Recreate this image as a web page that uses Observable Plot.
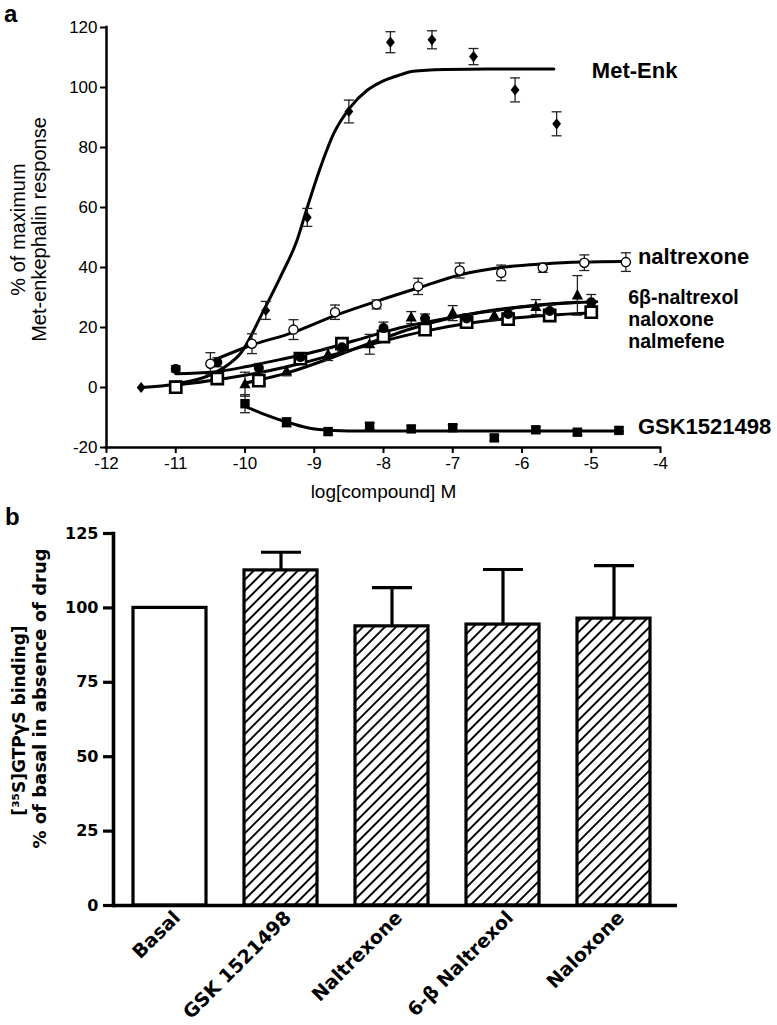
<!DOCTYPE html>
<html>
<head>
<meta charset="utf-8">
<script src="https://cdn.jsdelivr.net/npm/d3@7"></script>
<script src="https://cdn.jsdelivr.net/npm/@observablehq/plot@0.6"></script>
<style>
html,body{margin:0;padding:0;background:#fff;}
#wrap{position:relative;width:777px;height:1025px;overflow:hidden;background:#fff;}
.letter{position:absolute;font-family:'Liberation Sans',Arial,sans-serif;font-weight:bold;font-size:24px;line-height:normal;color:#000;}
#panelA{position:absolute;left:0;top:0;}
#panelB{position:absolute;left:0;top:510px;}
</style>
</head>
<body>
<svg width="0" height="0" style="position:absolute">
  <defs>
    <pattern id="hatch" patternUnits="userSpaceOnUse" width="7.8" height="7.8" patternTransform="rotate(45)">
      <rect x="0" y="0" width="7.8" height="7.8" fill="#fff"/>
      <line x1="3.9" y1="-1" x2="3.9" y2="9" stroke="#000" stroke-width="1.9"/>
    </pattern>
  </defs>
</svg>
<div id="wrap">
  <div id="panelA"></div>
  <div id="panelB"></div>
  <div class="letter" style="left:4px;top:0px;">a</div>
  <div class="letter" style="left:5px;top:503px;">b</div>
</div>
<script>
// ---------------- Panel a data ----------------
const xTicksA = [-12, -11, -10, -9, -8, -7, -6, -5, -4];
const yTicksA = [-20, 0, 20, 40, 60, 80, 100, 120];

// measured points (log M, % response, SEM)
const metEnkX = [-11.5, -9.7, -9.1, -8.5, -7.9, -7.3, -6.7, -6.1, -5.5];
const metEnkY = [0, 25.7, 56.7, 92, 115.1, 115.9, 110.3, 99.2, 87.9];
const metEnkE = [0, 3, 3, 3.8, 3.5, 3, 2.7, 4, 4];

const naltrexoneX = [-10.5, -9.9, -9.3, -8.7, -8.1, -7.5, -6.9, -6.3, -5.7, -5.1, -4.5];
const naltrexoneY = [7.9, 14.6, 19.3, 25.1, 27.7, 33.7, 39, 38.2, 39.9, 41.6, 41.8];
const naltrexoneE = [3.7, 3.3, 3.3, 2.4, 1.5, 2.7, 2.5, 2.6, 1.5, 2.6, 3.1];

const naltrexolX = [-10.0, -9.4, -8.8, -8.2, -7.6, -7.0, -6.4, -5.8, -5.2];
const naltrexolY = [1.1, 5.4, 11, 14.4, 23.3, 24.8, 24, 26.8, 30.7];
const naltrexolE = [4, 1.5, 2, 3.3, 2, 2.5, 1.5, 2.5, 6.6];

const naloxoneX = [-11.0, -10.4, -9.8, -9.2, -8.6, -8.0, -7.4, -6.8, -6.2, -5.6, -5.0];
const naloxoneY = [6.2, 8.4, 6.5, 10.1, 13.4, 19.8, 23, 23, 24.5, 25.5, 28.4];
const naloxoneE = [1, 1.5, 1.5, 1.5, 1.5, 2, 1.5, 1.5, 1.5, 2, 2.6];

const nalmefeneX = [-11.0, -10.4, -9.8, -9.2, -8.6, -8.0, -7.4, -6.8, -6.2, -5.6, -5.0];
const nalmefeneY = [0.1, 3.0, 2.3, 9.6, 14.6, 17, 19.3, 21.8, 22.8, 24, 25.1];
const nalmefeneE = [2, 1, 1, 1, 1, 1, 1, 1, 1, 1, 1];

const gskX = [-10.0, -9.4, -8.8, -8.2, -7.6, -7.0, -6.4, -5.8, -5.2, -4.6];
const gskY = [-5.4, -11.6, -14.7, -12.9, -13.8, -13.4, -16.8, -14.1, -14.9, -14.3];
const gskE = [3, 1.5, 1, 1, 1, 1, 1, 1, 1, 1];

// fitted curves
const metEnkCurveX = [-11.5, -11.0, -10.5, -10.25, -10.06, -9.73, -9.49, -9.25, -9.1, -8.91, -8.72, -8.48, -8.24, -8.04, -7.75, -7.57, -7.08, -6.5, -5.54];
const metEnkCurveY = [0, 1.2, 4.2, 7.5, 11.5, 25.7, 36.8, 49, 60.1, 73.4, 84.6, 93.4, 99, 101.8, 104.3, 105.4, 106, 106.2, 106.2];
const naltrexoneCurveX = [-10.4, -9.92, -9.3, -8.72, -8.09, -7.47, -6.89, -6.31, -5.69, -5.11, -4.53];
const naltrexoneCurveY = [9.6, 14, 18.4, 23.8, 28.8, 33.4, 37.6, 40.0, 41.2, 41.8, 42];
const naltrexolCurveX = [-10.0, -9.4, -8.8, -8.2, -7.6, -7.0, -6.4, -5.8, -5.2];
const naltrexolCurveY = [1.5, 4.8, 9.5, 14.8, 19.6, 23.3, 25.8, 27.4, 28.4];
const naloxoneCurveX = [-11.0, -10.45, -9.97, -9.5, -9.05, -8.72, -8.24, -7.76, -7.27, -6.6, -5.93, -5.2, -4.92];
const naloxoneCurveY = [4.6, 5.2, 7.0, 9.3, 11.6, 13.6, 16.8, 19.9, 22.3, 25.0, 27.0, 28.3, 28.6];
const nalmefeneCurveX = [-11.0, -10.4, -9.8, -9.2, -8.6, -8.0, -7.4, -6.8, -6.2, -5.6, -5.0];
const nalmefeneCurveY = [0.8, 2.6, 4.9, 8.0, 11.7, 15.5, 18.8, 21.3, 23.0, 24.1, 24.8];
const gskCurveX = [-10.0, -9.68, -9.39, -9.1, -8.72, -8.3, -8.0, -7.0, -6.0, -5.0, -4.55];
const gskCurveY = [-6.3, -9.3, -11.6, -13.4, -14.3, -14.5, -14.5, -14.5, -14.5, -14.5, -14.5];

const seriesNames = ["Met-Enk", "naltrexone", "6β-naltrexol", "naloxone", "nalmefene", "GSK1521498"];

// ---------------- Panel b data ----------------
const bCategories = ["Basal", "GSK 1521498", "Naltrexone", "6-β Naltrexol", "Naloxone"];
const bValues = [100, 112.6, 93.8, 94.4, 96.4];
const bErrors = [0, 6.1, 13.0, 18.5, 17.8];
const bHatched = [false, true, true, true, true];
const yTicksB = [0, 25, 50, 75, 100, 125];

// ---------------- build ----------------
const pts = (name, xs, ys, es) => xs.map((x, i) => ({series: name, x, y: ys[i], e: es[i]}));
const crv = (name, xs, ys) => xs.map((x, i) => ({series: name, x, y: ys[i]}));

const pMet = pts(seriesNames[0], metEnkX, metEnkY, metEnkE);
const pNtx = pts(seriesNames[1], naltrexoneX, naltrexoneY, naltrexoneE);
const pNol = pts(seriesNames[2], naltrexolX, naltrexolY, naltrexolE);
const pNlx = pts(seriesNames[3], naloxoneX, naloxoneY, naloxoneE);
const pNmf = pts(seriesNames[4], nalmefeneX, nalmefeneY, nalmefeneE);
const pGsk = pts(seriesNames[5], gskX, gskY, gskE);
const allPts = [...pMet, ...pNtx, ...pNol, ...pNlx, ...pNmf, ...pGsk];
const errPts = allPts.filter(d => d.e > 0);

const curves = [
  ...crv(seriesNames[0], metEnkCurveX, metEnkCurveY),
  ...crv(seriesNames[1], naltrexoneCurveX, naltrexoneCurveY),
  ...crv(seriesNames[2], naltrexolCurveX, naltrexolCurveY),
  ...crv(seriesNames[3], naloxoneCurveX, naloxoneCurveY),
  ...crv(seriesNames[4], nalmefeneCurveX, nalmefeneCurveY),
  ...crv(seriesNames[5], gskCurveX, gskCurveY)
];
const lastOf = (xs, ys, t) => [{t, x: xs[xs.length - 1], y: ys[ys.length - 1]}];

const sym = {
  diamond: {draw(c) { c.moveTo(0, -5.6); c.lineTo(4.4, 0); c.lineTo(0, 5.6); c.lineTo(-4.4, 0); c.closePath(); }},
  square: {draw(c) { c.rect(-4.7, -4.7, 9.4, 9.4); }},
  openSquare: {draw(c) { c.rect(-5.6, -5.6, 11.2, 11.2); }},
  triangle: {draw(c) { c.moveTo(0, -6.3); c.lineTo(5.6, 4); c.lineTo(-5.6, 4); c.closePath(); }},
  circle: {draw(c) { c.moveTo(5, 0); c.arc(0, 0, 5, 0, 2 * Math.PI); }},
  openCircle: {draw(c) { c.moveTo(4.6, 0); c.arc(0, 0, 4.6, 0, 2 * Math.PI); }}
};
const cap = (hw) => ({draw(c) { c.moveTo(-hw, 0); c.lineTo(hw, 0); }});

const FA = "'Liberation Sans', Arial, Helvetica, sans-serif";
const FB = "'DejaVu Sans', Verdana, sans-serif";

const plotA = Plot.plot({
  width: 777, height: 510,
  marginLeft: 106, marginRight: 117, marginTop: 27, marginBottom: 63,
  style: {fontFamily: FA, fontSize: "17px", color: "#000", background: "transparent", overflow: "visible"},
  x: {domain: [-12, -4]},
  y: {domain: [-20, 120]},
  marks: [
    Plot.axisY({ticks: yTicksA, tickSize: 6, tickPadding: 3, tickFormat: d => String(d), fontSize: 17, strokeWidth: 2, label: null}),
    Plot.axisX({ticks: xTicksA, tickSize: 6, tickPadding: 3, tickFormat: d => String(d), fontSize: 17, strokeWidth: 2, label: null}),
    Plot.ruleX([-12], {strokeWidth: 2.5, strokeLinecap: "square"}),
    Plot.ruleY([-20], {strokeWidth: 2.5, strokeLinecap: "square"}),
    Plot.line(curves, {x: "x", y: "y", z: "series", curve: "monotone-x", stroke: "#000", strokeWidth: 3}),
    Plot.ruleX(errPts, {x: "x", y1: d => d.y - d.e, y2: d => d.y + d.e, stroke: "#222", strokeWidth: 1.3}),
    Plot.dot(errPts, {x: "x", y: d => d.y + d.e, symbol: cap(5), fill: "none", stroke: "#222", strokeWidth: 1.3}),
    Plot.dot(errPts, {x: "x", y: d => d.y - d.e, symbol: cap(5), fill: "none", stroke: "#222", strokeWidth: 1.3}),
    Plot.dot(pNmf, {x: "x", y: "y", symbol: sym.openSquare, fill: "#fff", stroke: "#000", strokeWidth: 2.6}),
    Plot.dot(pNlx, {x: "x", y: "y", symbol: sym.circle, fill: "#000", stroke: "none"}),
    Plot.dot(pNol, {x: "x", y: "y", symbol: sym.triangle, fill: "#000", stroke: "none"}),
    Plot.dot(pNtx, {x: "x", y: "y", symbol: sym.openCircle, fill: "#fff", stroke: "#000", strokeWidth: 1.3}),
    Plot.dot(pGsk, {x: "x", y: "y", symbol: sym.square, fill: "#000", stroke: "none"}),
    Plot.dot(pMet, {x: "x", y: "y", symbol: sym.diamond, fill: "#000", stroke: "none"}),
    Plot.text(lastOf(metEnkCurveX, metEnkCurveY, "Met-Enk"), {x: "x", y: "y", text: "t", textAnchor: "start", dx: 38, dy: 2, fontSize: 22, fontWeight: "bold"}),
    Plot.text(lastOf(naltrexoneX, naltrexoneY, "naltrexone"), {x: "x", y: "y", text: "t", textAnchor: "start", dx: 12, dy: -5, fontSize: 22, fontWeight: "bold"}),
    Plot.text(lastOf(naloxoneX, naloxoneY, "6β-naltrexol\nnaloxone\nnalmefene"), {x: "x", y: "y", text: "t", textAnchor: "start", lineAnchor: "middle", lineHeight: 1.12, dx: 37, dy: 17, fontSize: 19.5, fontWeight: "bold"}),
    Plot.text(lastOf(gskX, gskY, "GSK1521498"), {x: "x", y: "y", text: "t", textAnchor: "start", dx: 19, dy: -3, fontSize: 22, fontWeight: "bold"}),
    Plot.text(["% of maximum\nMet-enkephalin response"], {text: d => d, frameAnchor: "left", textAnchor: "middle", lineAnchor: "middle", rotate: -90, dx: -78, dy: -8, fontSize: 20, lineHeight: 1.05}),
    Plot.text(["log[compound] M"], {text: d => d, frameAnchor: "bottom", textAnchor: "middle", lineAnchor: "middle", dy: 44, fontSize: 19})
  ]
});
document.getElementById("panelA").appendChild(plotA);

const bRows = bCategories.map((c, i) => ({c, v: bValues[i], e: bErrors[i], h: bHatched[i]}));
const bErrRows = bRows.filter(d => d.e > 0);

const plotB = Plot.plot({
  width: 777, height: 515,
  marginLeft: 113, marginRight: 100, marginTop: 23, marginBottom: 120,
  style: {fontFamily: FB, fontSize: "15px", color: "#000", background: "transparent", overflow: "visible"},
  x: {type: "band", domain: bCategories, range: [113, 669], paddingInner: 0.344, paddingOuter: 0.17},
  y: {domain: [0, 125]},
  marks: [
    Plot.ruleX(bErrRows, {x: "c", y1: "v", y2: d => d.v + d.e, stroke: "#000", strokeWidth: 3.2}),
    Plot.dot(bErrRows, {x: "c", y: d => d.v + d.e, symbol: cap(20), fill: "none", stroke: "#000", strokeWidth: 3.2}),
    Plot.barY(bRows.filter(d => !d.h), {x: "c", y: "v", fill: "#fff", stroke: "#000", strokeWidth: 3.2}),
    Plot.barY(bRows.filter(d => d.h), {x: "c", y: "v", fill: "url(#hatch)", stroke: "#000", strokeWidth: 3.2}),
    Plot.axisY({ticks: yTicksB, tickSize: 10, tickPadding: 5, fontSize: 16, fontWeight: "bold", strokeWidth: 3.2, label: null}),
    Plot.axisX({tickSize: 0, tickRotate: -45, tickPadding: 9, dx: 7, fontSize: 19, fontWeight: "bold", label: null}),
    Plot.ruleY([0], {strokeWidth: 3.6}),
    Plot.frame({anchor: "left", strokeWidth: 3.6}),
    Plot.text(["[³⁵S]GTPγS binding]"], {text: d => d, frameAnchor: "left", textAnchor: "middle", lineAnchor: "middle", rotate: -90, dx: -94, dy: 1, fontSize: 17, fontWeight: "bold"}),
    Plot.text(["% of basal in absence of drug"], {text: d => d, frameAnchor: "left", textAnchor: "middle", lineAnchor: "middle", rotate: -90, dx: -73, dy: -21, fontSize: 18, fontWeight: "bold"})
  ]
});
document.getElementById("panelB").appendChild(plotB);
</script>
</body>
</html>
